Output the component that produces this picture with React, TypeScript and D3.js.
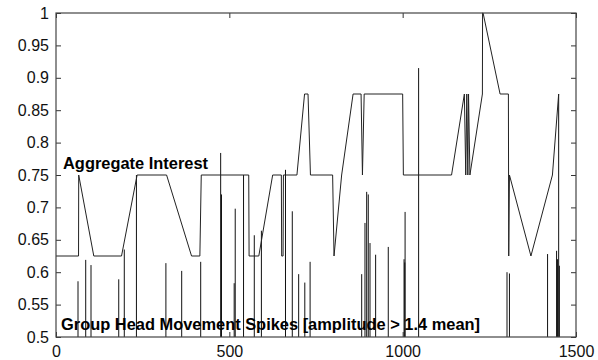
import { useEffect, useRef } from 'react';
import * as d3 from 'd3';

// aggregate interest polyline (x = frame, y = interest)
const interestX = [0, 65, 65.5, 109, 189, 234, 319, 391, 415, 419, 556, 557, 585, 625, 650, 651, 655, 656, 695, 717, 727, 734, 798, 802, 824, 857, 880, 884, 889, 1000, 1002, 1141, 1178, 1182, 1185, 1188, 1190, 1194, 1230, 1230.5, 1232, 1281, 1305, 1306, 1308, 1370, 1432, 1450];
const interestY = [0.625, 0.625, 0.75, 0.625, 0.625, 0.75, 0.75, 0.625, 0.625, 0.75, 0.75, 0.625, 0.625, 0.75, 0.75, 0.625, 0.625, 0.75, 0.75, 0.875, 0.875, 0.75, 0.75, 0.625, 0.75, 0.875, 0.875, 0.75, 0.875, 0.875, 0.75, 0.75, 0.875, 0.75, 0.875, 0.75, 0.875, 0.75, 0.875, 1.0, 1.0, 0.875, 0.875, 0.625, 0.75, 0.625, 0.75, 0.875];

// head movement spikes (frame, top of spike)
const spikeX = [63.5, 85.7, 101, 181, 197, 232, 317, 362.6, 417.4, 475, 477.4, 514, 517, 541, 572, 592.5, 662, 681.6, 700, 717.7, 733, 881.8, 891.3, 896.2, 900.8, 905.8, 922, 958.5, 1004, 1006, 1007, 1046, 1301, 1308, 1418, 1444, 1446.5, 1450, 1452];
const spikeTop = [0.586, 0.619, 0.611, 0.589, 0.635, 0.75, 0.614, 0.602, 0.616, 0.784, 0.72, 0.583, 0.698, 0.75, 0.657, 0.664, 0.758, 0.694, 0.597, 0.584, 0.616, 0.597, 0.676, 0.724, 0.72, 0.645, 0.627, 0.639, 0.62, 0.615, 0.693, 0.915, 0.6, 0.598, 0.628, 0.633, 0.62, 0.875, 0.61];

const xTicks = [0, 500, 1000, 1500];
const yTicks = [0.5, 0.55, 0.6, 0.65, 0.7, 0.75, 0.8, 0.85, 0.9, 0.95, 1];

const App = () => {
  const svgRef = useRef(null);

  useEffect(() => {
    const svg = d3.select(svgRef.current);
    svg.selectAll('*').remove();

    const x = d3.scaleLinear().domain([0, 1500]).range([56, 576]);
    const y = d3.scaleLinear().domain([0.5, 1]).range([337, 13]);
    const font = 'Liberation Sans, Arial, Helvetica, sans-serif';

    // spikes
    svg
      .append('g')
      .selectAll('line')
      .data(spikeX)
      .enter()
      .append('line')
      .attr('x1', d => x(d))
      .attr('x2', d => x(d))
      .attr('y1', y(0.5))
      .attr('y2', (d, i) => y(spikeTop[i]))
      .attr('stroke', '#111')
      .attr('stroke-width', 1);

    // interest line
    const line = d3
      .line()
      .x(d => x(d[0]))
      .y(d => y(d[1]));
    svg
      .append('path')
      .datum(interestX.map((v, i) => [v, interestY[i]]))
      .attr('d', line)
      .attr('fill', 'none')
      .attr('stroke', '#222')
      .attr('stroke-width', 1);

    // axes with inward ticks
    const styleAxis = g => {
      g.select('.domain').remove();
      g.selectAll('line').attr('stroke', '#333');
      g.selectAll('text').attr('font-family', font).attr('font-size', 16).attr('fill', '#111');
    };

    svg
      .append('g')
      .attr('transform', 'translate(56,0)')
      .call(d3.axisLeft(y).tickValues(yTicks).tickSize(-5).tickPadding(7).tickFormat(d => String(+d.toFixed(2))))
      .call(styleAxis);

    svg
      .append('g')
      .attr('transform', 'translate(576,0)')
      .call(d3.axisRight(y).tickValues(yTicks).tickSize(-5).tickFormat(() => ''))
      .call(styleAxis);

    svg
      .append('g')
      .attr('transform', 'translate(0,337)')
      .call(d3.axisBottom(x).tickValues(xTicks).tickSize(-5).tickPadding(8.5).tickFormat(d => String(d)))
      .call(styleAxis);

    svg
      .append('g')
      .attr('transform', 'translate(0,13)')
      .call(d3.axisTop(x).tickValues(xTicks).tickSize(-5).tickFormat(() => ''))
      .call(styleAxis);

    // frame
    svg
      .append('rect')
      .attr('x', 56)
      .attr('y', 13)
      .attr('width', 520)
      .attr('height', 324)
      .attr('fill', 'none')
      .attr('stroke', '#444')
      .attr('stroke-width', 1.2);

    // annotations
    svg
      .append('text')
      .attr('x', 63)
      .attr('y', 169)
      .attr('font-family', font)
      .attr('font-size', 16)
      .attr('font-weight', 'bold')
      .attr('textLength', 145)
      .attr('lengthAdjust', 'spacingAndGlyphs')
      .text('Aggregate Interest');

    svg
      .append('text')
      .attr('x', 61)
      .attr('y', 330)
      .attr('font-family', font)
      .attr('font-size', 16)
      .attr('font-weight', 'bold')
      .attr('textLength', 419)
      .attr('lengthAdjust', 'spacingAndGlyphs')
      .text('Group Head Movement Spikes [amplitude > 1.4 mean]');
  }, []);

  return (
    <svg
      ref={svgRef}
      width={598}
      height={360}
      style={{ position: 'absolute', left: 0, top: 0, background: '#fff' }}
    ></svg>
  );
};

export default App;
